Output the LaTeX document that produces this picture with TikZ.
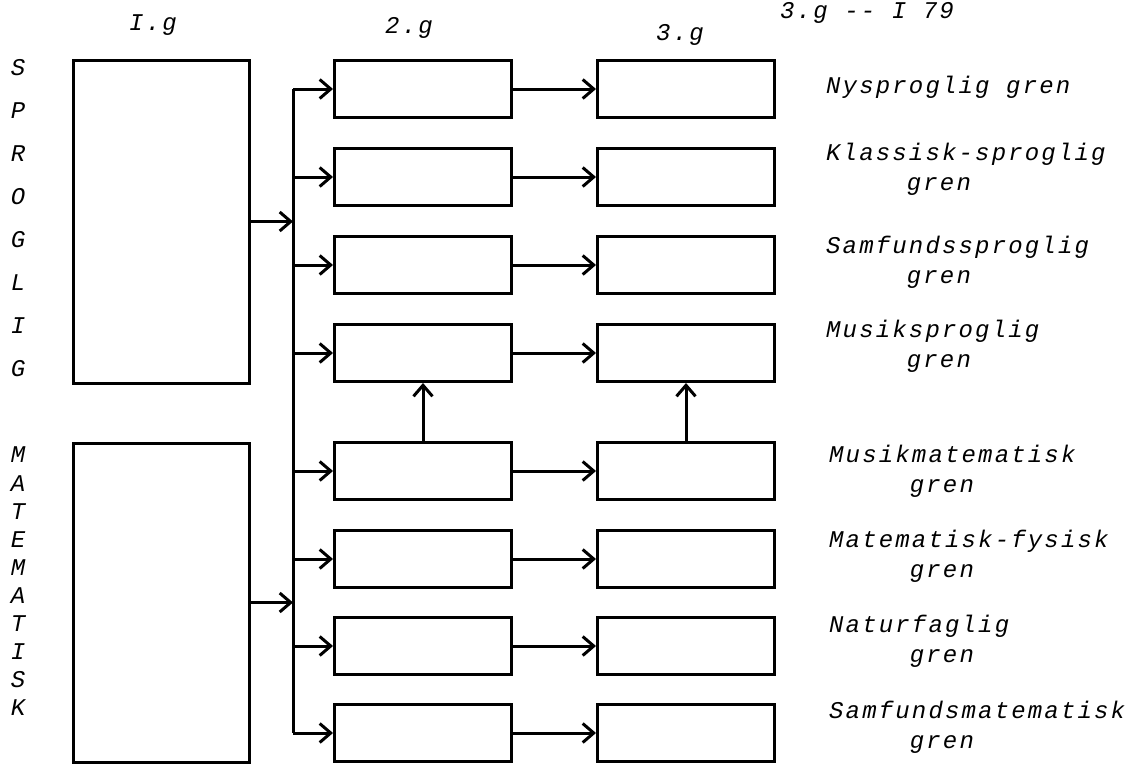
\documentclass[tikz,border=0pt]{standalone}
\usepackage{fontspec}
\usetikzlibrary{arrows.meta}
\newfontfamily\tw{Liberation Mono}[LetterSpace=9]
\begin{document}
\begin{tikzpicture}[x=1pt,y=-1pt,
  bx/.style={draw, line width=3pt, inner sep=0pt, minimum width=177pt, minimum height=57pt},
  big/.style={draw, line width=3pt, inner sep=0pt, minimum width=176pt},
  arr/.style={line width=3pt, -{Straight Barb[length=11pt,width=19pt,line width=3pt]}},
  ln/.style={line width=3pt},
  txt/.style={font=\tw\itshape\fontsize{24}{30}\selectfont, inner sep=0pt},
  lab/.style={txt, anchor=west, align=left}]
\useasboundingbox (0,0) rectangle (1140,764);
% big boxes
\node[big, minimum height=323pt] (sprog) at (161,221.5) {};
\node[big, minimum height=319pt] (mat) at (161,602.5) {};
% trunk
\coordinate (tTop) at (293,89);
\coordinate (tBot) at (293,733);
\draw[ln] (tTop) -- (tBot);
% 2.g and 3.g boxes
\foreach \i/\y in {1/89,2/177,3/265,4/353,5/471,6/559,7/646,8/733}{
  \node[bx] (a\i) at (423,\y) {};
  \node[bx] (b\i) at (686,\y) {};
}
\draw[arr] (sprog.east) -- (sprog.east -| tTop);
\draw[arr] (mat.east) -- (mat.east -| tTop);
\foreach \i in {1,...,8}{
  \draw[arr] (a\i.west -| tTop) -- (a\i.west);
  \draw[arr] (a\i.east) -- (b\i.west);
}
\draw[arr] (a5.north) -- (a4.south);
\draw[arr] (b5.north) -- (b4.south);
% headings
\node[txt] (h1) at (153,25) {I.g};
\node[txt] (h2) at (409,28) {2.g};
\node[txt] (h3) at (680,35) {3.g};
\node[txt, anchor=north west] (h4) at (780,2) {3.g -- I 79};
% vertical words
\foreach \c [count=\k] in {S,P,R,O,G,L,I,G}{
  \node[txt] (s\k) at (18,{68+42.9*(\k-1)}) {\c};
}
\foreach \c [count=\k] in {M,A,T,E,M,A,T,I,S,K}{
  \node[txt] (m\k) at (18,{455+28.1*(\k-1)}) {\c};
}
% branch labels
\node[lab] (l1) at (826,87) {Nysproglig gren};
\node[lab, anchor=north west] (l2) at (826,143) {Klassisk-sproglig\\\phantom{Klass}gren};
\node[lab, anchor=north west] (l3) at (826,236) {Samfundssproglig\\\phantom{Samfu}gren};
\node[lab, anchor=north west] (l4) at (826,320) {Musiksproglig\\\phantom{Musik}gren};
\node[lab, anchor=north west] (l5) at (829,445) {Musikmatematisk\\\phantom{Musik}gren};
\node[lab, anchor=north west] (l6) at (829,530) {Matematisk-fysisk\\\phantom{Matem}gren};
\node[lab, anchor=north west] (l7) at (829,615) {Naturfaglig\\\phantom{Natur}gren};
\node[lab, anchor=north west] (l8) at (829,701) {Samfundsmatematisk\\\phantom{Samfu}gren};
\end{tikzpicture}
\end{document}
